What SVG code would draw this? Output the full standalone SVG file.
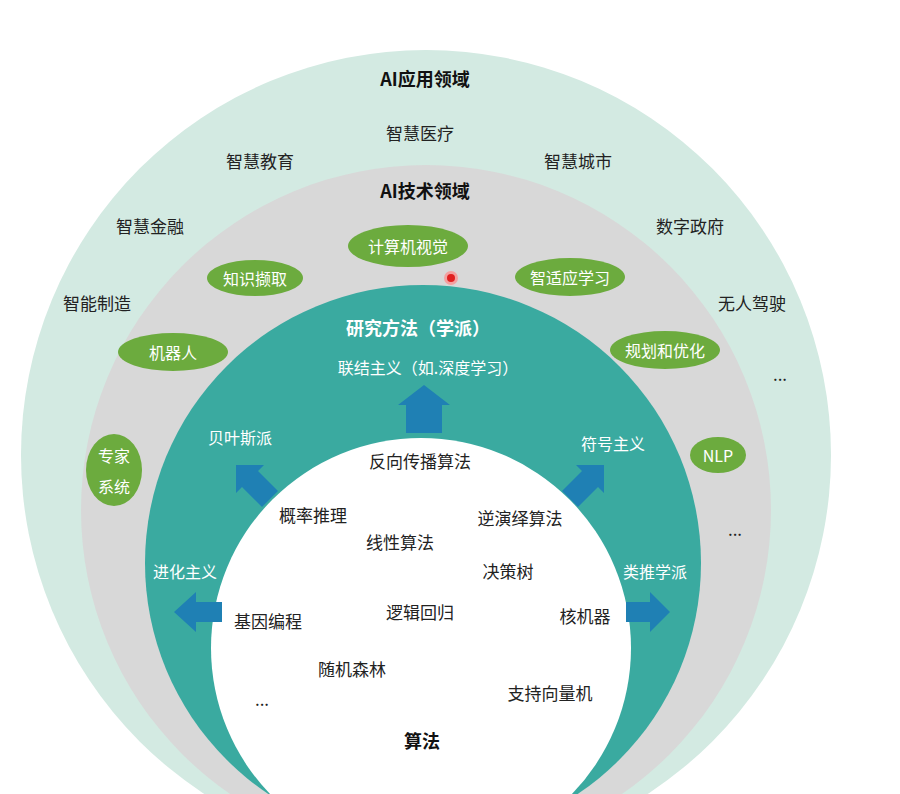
<svg xmlns="http://www.w3.org/2000/svg" width="900" height="794" viewBox="0 0 900 794">
<style>
text{font-family:"Noto Sans CJK SC","Liberation Sans",sans-serif;text-anchor:middle;dominant-baseline:central}
.d{fill:#222;font-size:17px}
.b{fill:#111;font-size:18px;font-weight:bold}
.w{fill:#fff;font-size:16px}
.wb{fill:#fff;font-size:18px;font-weight:bold}
.pill{fill:#6cab3e}
.arr{fill:#1f80b4}
</style>
<rect width="900" height="794" fill="#fff"/>
<circle cx="426" cy="455" r="405" fill="#d3eae2"/>
<circle cx="426" cy="510" r="345" fill="#d8d8d8"/>
<circle cx="423" cy="563" r="278" fill="#3aaaa0"/>
<circle cx="421" cy="648" r="210" fill="#fff"/>
<g id="nodes">
<text class="b" x="425" y="78">AI应用领域</text>
<text class="d" x="420" y="132">智慧医疗</text>
<text class="d" x="260" y="160">智慧教育</text>
<text class="d" x="578" y="160">智慧城市</text>
<text class="d" x="150" y="225">智慧金融</text>
<text class="d" x="690" y="225">数字政府</text>
<text class="d" x="97" y="302">智能制造</text>
<text class="d" x="752" y="302">无人驾驶</text>
<text class="d" x="780" y="373">...</text>
<text class="d" x="735" y="528">...</text>
<text class="b" x="425" y="190">AI技术领域</text>
<g id="cv"><ellipse class="pill" cx="408" cy="246" rx="60" ry="21"/><text class="w" x="408" y="246">计算机视觉</text></g>
<g id="zs"><ellipse class="pill" cx="255" cy="278" rx="48" ry="18"/><text class="w" x="255" y="278">知识撷取</text></g>
<g id="zsy"><ellipse class="pill" cx="570" cy="277" rx="55" ry="19"/><text class="w" x="570" y="277">智适应学习</text></g>
<g id="jqr"><ellipse class="pill" cx="173" cy="352" rx="55" ry="19"/><text class="w" x="173" y="352">机器人</text></g>
<g id="gh"><ellipse class="pill" cx="665" cy="350" rx="55" ry="19"/><text class="w" x="665" y="350">规划和优化</text></g>
<g id="zj"><ellipse class="pill" cx="114" cy="470" rx="28" ry="36"/><text class="w" x="114" y="455">专家</text><text class="w" x="114" y="486">系统</text></g>
<g id="nlp"><ellipse class="pill" cx="718" cy="455" rx="28" ry="18"/><text class="w" x="718" y="455">NLP</text></g>
<circle cx="451" cy="278" r="7" fill="#f4a0a0"/><circle cx="451" cy="278" r="4" fill="#e02020"/>
<text class="wb" x="418" y="327">研究方法（学派）</text>
<text class="w" x="428" y="367">联结主义（如.深度学习）</text>
<text class="w" x="240" y="437">贝叶斯派</text>
<text class="w" x="613" y="443">符号主义</text>
<text class="w" x="185" y="571">进化主义</text>
<text class="w" x="655" y="571">类推学派</text>
<text class="d" x="420" y="460">反向传播算法</text>
<text class="d" x="313" y="514">概率推理</text>
<text class="d" x="520" y="517">逆演绎算法</text>
<text class="d" x="400" y="541">线性算法</text>
<text class="d" x="508" y="570">决策树</text>
<text class="d" x="268" y="620">基因编程</text>
<text class="d" x="420" y="611">逻辑回归</text>
<text class="d" x="585" y="615">核机器</text>
<text class="d" x="352" y="668">随机森林</text>
<text class="d" x="550" y="692">支持向量机</text>
<text class="d" x="262" y="698">...</text>
<text class="b" x="422" y="740">算法</text>
</g>
<g id="connectors">
<polygon class="arr" points="406,433 406,405 398,405 424,385 450,405 442,405 442,433"/>
<polygon class="arr" points="262,507 242,487 236,493 236,465 264,465 258,471 278,491"/>
<polygon class="arr" points="578,507 598,487 604,493 604,465 576,465 582,471 562,491"/>
<polygon class="arr" points="222,602 196,602 196,592 174,612 196,632 196,622 222,622"/>
<polygon class="arr" points="626,602 650,602 650,592 670,612 650,632 650,622 626,622"/>
</g>
</svg>
